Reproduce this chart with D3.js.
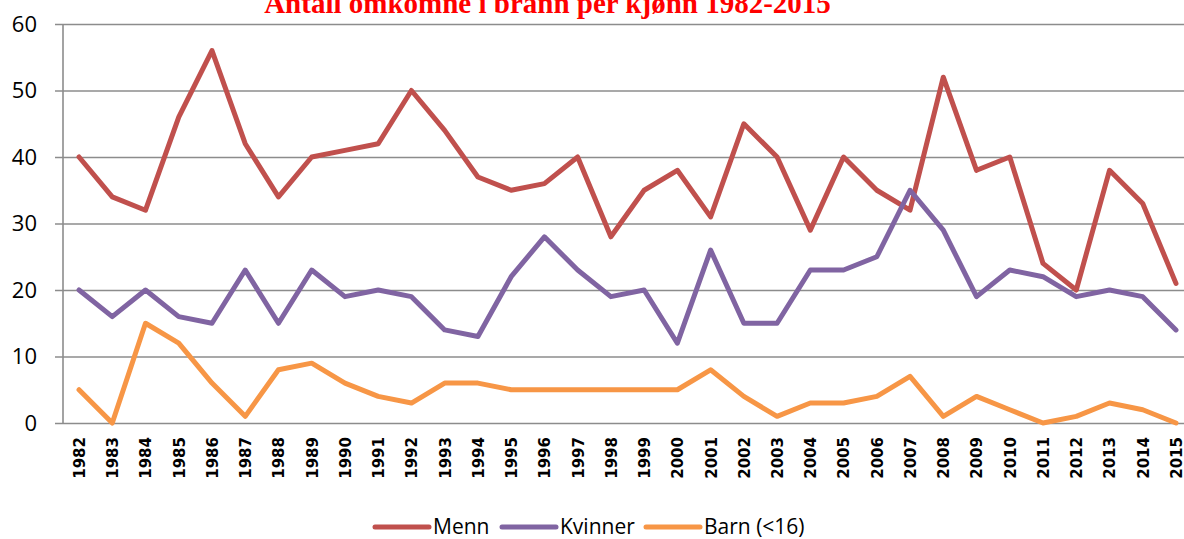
<!DOCTYPE html>
<html>
<head>
<meta charset="utf-8">
<script src="https://cdn.jsdelivr.net/npm/d3@7"></script>
<style>
  html, body { margin: 0; padding: 0; background: #fff; }
  svg { display: block; }
</style>
</head>
<body>
<svg id="chart" width="1184" height="539"></svg>
<script>
const years = [1982,1983,1984,1985,1986,1987,1988,1989,1990,1991,1992,1993,1994,1995,1996,1997,1998,1999,2000,2001,2002,2003,2004,2005,2006,2007,2008,2009,2010,2011,2012,2013,2014,2015];
const menn    = [40,34,32,46,56,42,34,40,41,42,50,44,37,35,36,40,28,35,38,31,45,40,29,40,35,32,52,38,40,24,20,38,33,21];
const kvinner = [20,16,20,16,15,23,15,23,19,20,19,14,13,22,28,23,19,20,12,26,15,15,23,23,25,35,29,19,23,22,19,20,19,14];
const barn    = [5,0,15,12,6,1,8,9,6,4,3,6,6,5,5,5,5,5,5,8,4,1,3,3,4,7,1,4,2,0,1,3,2,0];
const seriesNames = ["Menn", "Kvinner", "Barn (<16)"];
const seriesColors = ["#C0504D", "#8064A2", "#F79646"];
const yTicks = [0,10,20,30,40,50,60];
const title = "Antall omkomne i brann per kjønn 1982-2015";

const svg = d3.select("#chart");

const x = d3.scalePoint().domain(years).range([62.4, 1192.6]).padding(0.5);
const y = d3.scaleLinear().domain([0, 60]).range([423, 24]);

// gridlines + y labels
const yAxis = d3.axisLeft(y).tickValues(yTicks).tickSize(-(1192 - 55)).tickPadding(18);
const gy = svg.append("g").attr("transform", "translate(55,0)").call(yAxis);
gy.select(".domain").remove();
gy.selectAll(".tick line").attr("stroke", "#8c8c8c").attr("stroke-width", 1.6);
gy.selectAll(".tick text")
  .attr("fill", "#000")
  .style("font-family", "'Open Sans', sans-serif")
  .style("font-size", "22px");

// vertical axis line
svg.append("line")
  .attr("x1", 63).attr("x2", 63)
  .attr("y1", y(60)).attr("y2", y(0))
  .attr("stroke", "#8c8c8c").attr("stroke-width", 1.6);

// x labels
const xAxis = d3.axisBottom(x).tickSize(0).tickPadding(0);
const gx = svg.append("g").attr("transform", "translate(0,437)").call(xAxis);
gx.select(".domain").remove();
gx.selectAll(".tick text")
  .attr("transform", "rotate(-90)")
  .attr("x", 0).attr("y", 0).attr("dy", "0.36em")
  .attr("text-anchor", "end")
  .attr("fill", "#000")
  .style("font-family", "'DejaVu Sans', sans-serif")
  .style("font-weight", "bold")
  .style("font-size", "15px");

// lines
const data = [menn, kvinner, barn];
const line = d3.line().x((d, i) => x(years[i])).y(d => y(d));
data.forEach((vals, k) => {
  svg.append("path")
    .datum(vals)
    .attr("d", line)
    .attr("fill", "none")
    .attr("stroke", seriesColors[k])
    .attr("stroke-width", 5)
    .attr("stroke-linejoin", "round")
    .attr("stroke-linecap", "round");
});

// title
svg.append("text")
  .attr("x", 547.5).attr("y", 13)
  .attr("text-anchor", "middle")
  .attr("fill", "#FF0000")
  .style("font-family", "'Liberation Serif', 'Times New Roman', serif")
  .style("font-weight", "bold")
  .style("font-size", "29px")
  .text(title);

// legend
const legendX = [375, 502, 646];
const lg = svg.append("g");
seriesNames.forEach((name, k) => {
  lg.append("line")
    .attr("x1", legendX[k]).attr("x2", legendX[k] + 54)
    .attr("y1", 527).attr("y2", 527)
    .attr("stroke", seriesColors[k]).attr("stroke-width", 5)
    .attr("stroke-linecap", "round");
  lg.append("text")
    .attr("x", legendX[k] + 58).attr("y", 534)
    .attr("fill", "#000")
    .style("font-family", "'Open Sans', sans-serif")
    .style("font-size", "21px")
    .text(name);
});
</script>
</body>
</html>
